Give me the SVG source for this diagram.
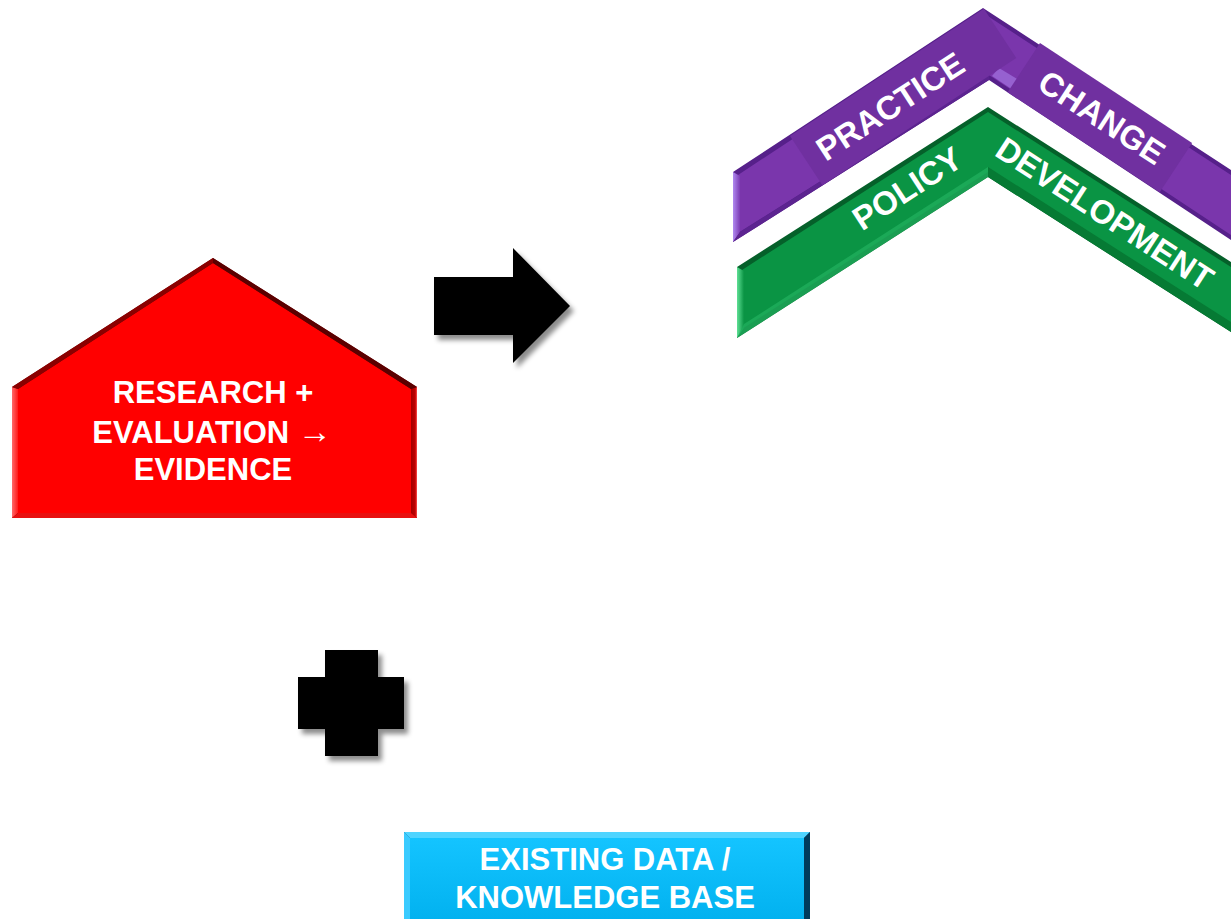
<svg xmlns="http://www.w3.org/2000/svg" width="1231" height="919" viewBox="0 0 1231 919">
  <defs>
    <style>
      .lbl { font-family: "Liberation Sans", Arial, sans-serif; font-weight: bold; fill: #ffffff; text-anchor: middle; }
      .big { font-size: 31px; }
      .band { font-size: 33px; }
      .thin { font-family: "Liberation Serif", "Times New Roman", serif; font-weight: normal; font-size: 34px; }
    </style>
    <filter id="shadow" x="-20%" y="-20%" width="150%" height="150%">
      <feDropShadow dx="4" dy="5" stdDeviation="2.5" flood-color="#000" flood-opacity="0.45"/>
    </filter>
    <linearGradient id="redLeft" x1="0" y1="0" x2="1" y2="0">
      <stop offset="0" stop-color="#ff6a6a"/>
      <stop offset="1" stop-color="#ff1a1a"/>
    </linearGradient>
    <linearGradient id="redRight" x1="0" y1="0" x2="1" y2="0">
      <stop offset="0" stop-color="#a00000"/>
      <stop offset="0.7" stop-color="#c00000"/>
      <stop offset="1" stop-color="#ff5050"/>
    </linearGradient>
    <linearGradient id="blueFace" x1="0" y1="0" x2="0" y2="1">
      <stop offset="0" stop-color="#14c4ff"/>
      <stop offset="1" stop-color="#00b0ee"/>
    </linearGradient>
    <linearGradient id="purpleCap" x1="0" y1="0" x2="1" y2="0">
      <stop offset="0" stop-color="#b08af0"/>
      <stop offset="1" stop-color="#7c3cb4"/>
    </linearGradient>
    <linearGradient id="greenCap" x1="0" y1="0" x2="1" y2="0">
      <stop offset="0" stop-color="#5fe095"/>
      <stop offset="1" stop-color="#0a9444"/>
    </linearGradient>
  </defs>

  <rect width="1231" height="919" fill="#ffffff"/>

  <!-- purple chevron: PRACTICE CHANGE -->
  <g id="practice-change">
    <polygon points="733,172 983,8 1231,170 1231,240 989,80 733,242" fill="#56208a"/>
    <polygon points="738,175 983,13 1231,175 1231,235 989,75 738,233" fill="#7a36ac"/>
    <polygon points="733,172 740,176 740,232 733,242" fill="url(#purpleCap)"/>
    <polygon points="740,232 989,75 989,80 733,242" fill="#5c2490"/>
    <polygon points="992,76 1016,92 1024,83 999,68" fill="#a274e0" opacity="0.7"/>
    <!-- flat label panels -->
    <g transform="translate(790,136) rotate(-33.3)">
      <rect x="0" y="0" width="232" height="59" fill="#7030a0"/>
    </g>
    <g transform="translate(1040,43) rotate(33.3)">
      <rect x="0" y="0" width="182" height="59" fill="#7030a0"/>
    </g>
    <text class="lbl band" transform="translate(890,106) rotate(-33)" y="12">PRACTICE</text>
    <text class="lbl band" transform="translate(1102,117) rotate(33)" y="12">CHANGE</text>
  </g>

  <!-- green chevron: POLICY DEVELOPMENT -->
  <g id="policy-development">
    <polygon points="737,267 988,107 1231,262 1231,332 988,177 737,338" fill="#05602a"/>
    <polygon points="742,270 988,112 1231,267 1231,327 988,172 742,329" fill="#0a9444"/>
    <polygon points="737,267 744,271 744,328 737,338" fill="url(#greenCap)"/>
    <polygon points="744,324 988,167 988,177 737,338" fill="#1fae5c" opacity="0.8"/>
    <polygon points="988,167 1231,322 1231,332 988,177" fill="#067a34"/>
    <text class="lbl band" transform="translate(907,188) rotate(-33)" y="12">POLICY</text>
    <text class="lbl band" transform="translate(1105,213) rotate(33)" y="12">DEVELOPMENT</text>
  </g>

  <!-- red pentagon: research + evaluation -->
  <g id="research">
    <polygon points="213,258 417,387 417,518 12,518 12,387" fill="#7a0000"/>
    <polygon points="213,263 411,389 411,513 18,513 18,389" fill="#ff0000"/>
    <polygon points="12,387 18,389 18,513 12,518" fill="url(#redLeft)"/>
    <polygon points="411,389 417,387 417,518 411,513" fill="url(#redRight)"/>
    <polygon points="18,513 411,513 417,518 12,518" fill="#e81010"/>
    <polygon points="213,258 417,387 411,389 213,263" fill="#5a0000"/>
    <polygon points="213,258 213,263 18,389 12,387" fill="#8a0000"/>
    <text class="lbl big" x="213" y="403">RESEARCH +</text>
    <text class="lbl big" x="212" y="443">EVALUATION <tspan class="thin">→</tspan></text>
    <text class="lbl big" x="213" y="480">EVIDENCE</text>
  </g>

  <!-- blue bar: existing data -->
  <g id="existing-data">
    <rect x="404" y="832" width="406" height="95" fill="#0a5a80"/>
    <polygon points="404,832 810,832 804,838 410,838" fill="#4fd4ff"/>
    <polygon points="404,832 410,838 410,927 404,927" fill="#3acbff"/>
    <polygon points="810,832 804,838 804,927 810,927" fill="#003c5c"/>
    <rect x="410" y="838" width="394" height="89" fill="url(#blueFace)"/>
    <text class="lbl big" x="605" y="870">EXISTING DATA /</text>
    <text class="lbl big" x="605" y="908">KNOWLEDGE BASE</text>
  </g>

  <!-- block arrow leading from evidence to change -->
  <g id="connectors">
    <polygon points="434,277 513,277 513,248 570,306 513,363 513,335 434,335" fill="#000000" filter="url(#shadow)"/>
  </g>

  <!-- plus sign joining evidence and existing data -->
  <g id="plus">
    <polygon points="325,650 378,650 378,677 404,677 404,729 378,729 378,756 325,756 325,729 298,729 298,677 325,677" fill="#000000" filter="url(#shadow)"/>
  </g>
</svg>
